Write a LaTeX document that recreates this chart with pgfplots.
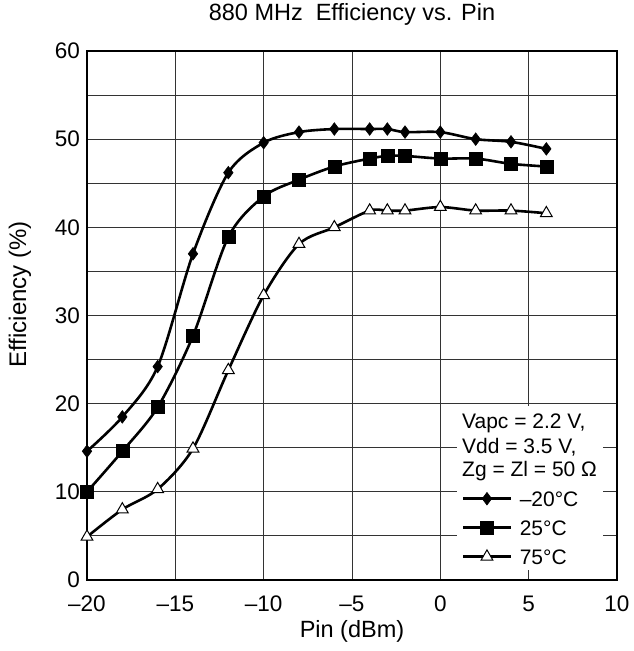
\documentclass[border=0pt]{standalone}
\usepackage{fontspec}
\setmainfont{Liberation Sans}
\usepackage{pgfplots}
\pgfplotsset{compat=1.18}
\begin{document}
\fontsize{21}{25}\selectfont
\begin{tikzpicture}
\begin{axis}[
  at={(0pt,0pt)}, anchor=south west,
  scale only axis, width=530pt, height=529pt,
  xmin=-20, xmax=10, ymin=0, ymax=60,
  xtick={-20,-15,-10,-5,0,5,10},
  xticklabels={–20,–15,–10,–5,0,5,10},
  ytick={0,10,20,30,40,50,60},
  yticklabels={0,10,20,30,40,50,60},
  minor ytick={5,15,25,35,45,55},
  grid=both,
  major grid style={black!80, line width=0.9pt},
  minor grid style={black!80, line width=0.9pt},
  major tick length=0pt, minor tick length=0pt,
  axis line style={black, line width=1.6pt},
  tick label style={font=\fontsize{22.5}{26}\selectfont},
  xticklabel style={anchor=base, inner sep=0pt, yshift=-31pt},
  yticklabel style={anchor=east, inner sep=0pt, xshift=-7pt},
  title={880 MHz\hspace{0.55em}Efficiency vs. Pin},
  title style={at={(axis description cs:0.5,1)}, anchor=base, yshift=25pt, inner sep=0pt, font=\fontsize{23.5}{27}\selectfont},
  xlabel={Pin (dBm)},
  xlabel style={at={(axis description cs:0.5,0)}, anchor=base, yshift=-57pt, inner sep=0pt, font=\fontsize{23.5}{27}\selectfont},
  ylabel={Efficiency (\%)},
  ylabel style={at={(axis description cs:-0.1264,0.54)}, anchor=center, rotate=0, inner sep=0pt, font=\fontsize{24}{28}\selectfont},
  clip mode=individual,
  legend style={at={(rel axis cs:0.7075,0.1739)}, anchor=north west, draw=none, fill=none,
    inner sep=0pt, row sep=8pt, column sep=8pt,
    nodes={inner sep=0pt, anchor=west, text height=18pt, text depth=3pt},
    font=\fontsize{21}{25}\selectfont},
  legend image code/.code={
    \draw[mark repeat=2, mark phase=2] plot coordinates {(0pt,0pt) (23.5pt,0pt) (47pt,0pt)};
  },
  every axis plot/.append style={line width=2.6pt, black, smooth, tension=0.5},
]
\fill[white] (rel axis cs:0.6975,0.0189) rectangle (rel axis cs:0.9736,0.329);
\node[anchor=base west, inner sep=0pt] at (rel axis cs:0.7075,0.2868) {Vapc = 2.2 V,};
\node[anchor=base west, inner sep=0pt] at (rel axis cs:0.7075,0.2395) {Vdd = 3.5 V,};
\node[anchor=base west, inner sep=0pt] at (rel axis cs:0.7075,0.1953) {Zg = Zl = 50 Ω};

\addplot[mark=diamond*, mark size=6.3pt, mark options={solid, fill=black, line width=0.6pt}] coordinates {
(-20,14.6) (-18,18.5) (-16,24.2) (-14,37.0) (-12,46.2) (-10,49.6) (-8,50.8) (-6,51.15) (-4,51.15) (-3,51.15) (-2,50.8) (0,50.8) (2,50.0) (4,49.7) (6,48.9)};
\addlegendentry{–20°C}
\addplot[mark=square*, mark size=6.5pt, mark options={solid, fill=black, line width=0.6pt}] coordinates {
(-20,10.0) (-18,14.6) (-16,19.6) (-14,27.7) (-12,38.9) (-10,43.5) (-8,45.4) (-6,46.9) (-4,47.8) (-3,48.1) (-2,48.1) (0,47.8) (2,47.8) (4,47.2) (6,46.9)};
\addlegendentry{25°C}
\addplot[mark=triangle*, mark size=6.8pt, mark options={solid, fill=white, draw=black, line width=1pt}] coordinates {
(-20,4.9) (-18,8.0) (-16,10.3) (-14,14.9) (-12,23.8) (-10,32.3) (-8,38.1) (-6,40.0) (-4,41.9) (-3,41.9) (-2,41.9) (0,42.3) (2,41.9) (4,41.9) (6,41.6)};
\addlegendentry{75°C}
\end{axis}
\pgfresetboundingbox
\path (-87pt,-71pt) rectangle (546pt,580pt);
\end{tikzpicture}
\end{document}
